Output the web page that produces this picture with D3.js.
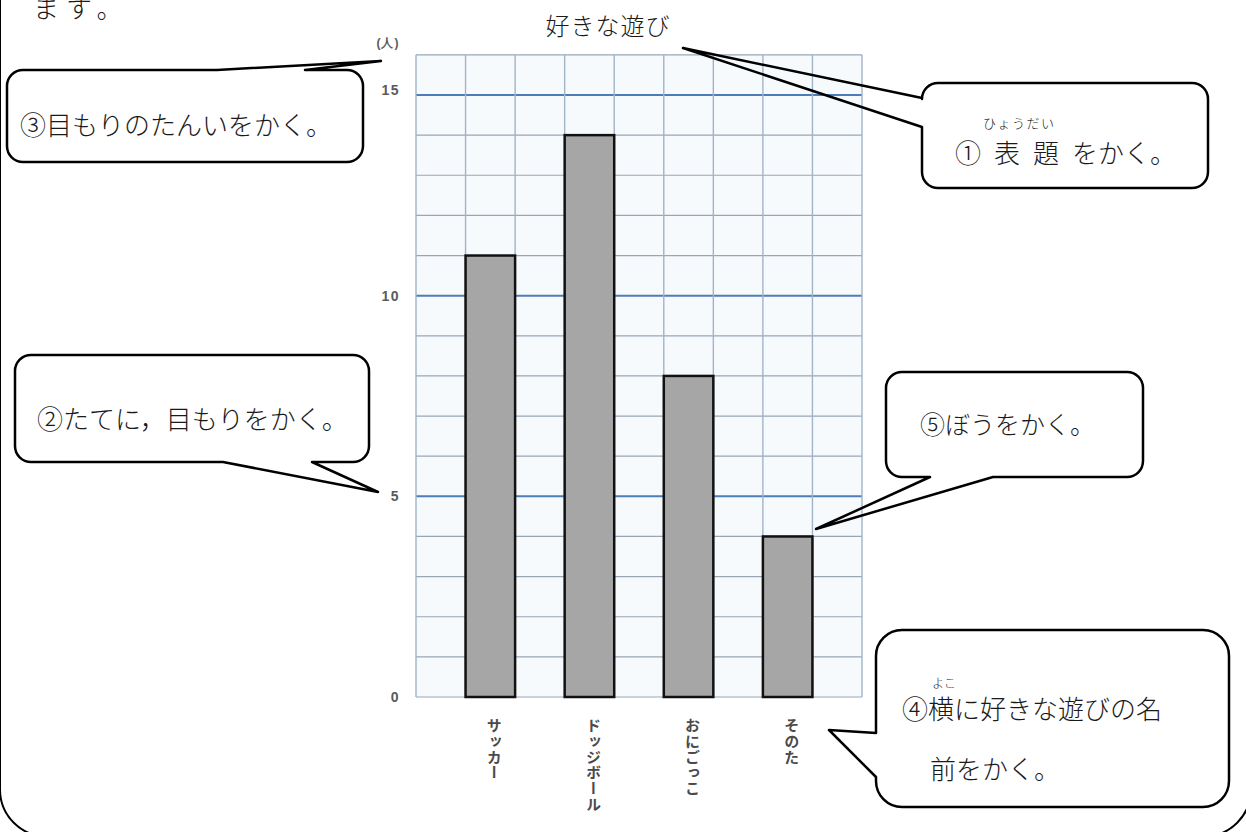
<!DOCTYPE html>
<html>
<head>
<meta charset="utf-8">
<script src="https://cdn.jsdelivr.net/npm/d3@7"></script>
<style>
  body { margin: 0; background: #fff; }
  svg { display: block; }
  .jp { font-family: "Noto Sans CJK JP", sans-serif; font-weight: 300; fill: #1a1a1a; }
  .tick-label { font-family: "Liberation Sans", Arial, sans-serif; font-weight: bold; fill: #5a5a5a; }
</style>
</head>
<body>
<div id="vis"></div>
<script>
// chart data
const categories = ["サッカー", "ドッジボール", "おにごっこ", "そのた"];
const values = [11, 14, 8, 4];
const yTicks = [0, 5, 10, 15];
const yMax = 16;          // grid goes one row above 15
const unitLabel = "(人)";
const chartTitle = "好きな遊び";

const width = 1246;
const height = 832;

// plot area (the grid)
const plot = { left: 416, right: 862, bottom: 697, top15: 95 };

const svg = d3.select("#vis").append("svg")
    .attr("width", width)
    .attr("height", height)
    .attr("viewBox", [0, 0, width, height]);

// big page frame, mostly outside the window
svg.append("rect")
    .attr("x", 0).attr("y", -100)
    .attr("width", 1251).attr("height", 936.5)
    .attr("rx", 47)
    .attr("fill", "none")
    .attr("stroke", "#000")
    .attr("stroke-width", 2);

// leftover text from the page above (cut at the top, as in the scan)
svg.append("text")
    .attr("class", "jp")
    .attr("x", 33).attr("y", 6)
    .attr("dominant-baseline", "central")
    .style("font-size", "26px")
    .style("letter-spacing", "7px")
    .text("ます。");

const x = d3.scaleBand()
    .domain(categories)
    .range([plot.left, plot.right])
    .paddingInner(0.5)
    .paddingOuter(0.5);

const y = d3.scaleLinear()
    .domain([0, 15])
    .range([plot.bottom, plot.top15]);

// grid columns are half a band step wide
const nCols = categories.length * 2 + 1;
const xCol = d3.scaleLinear().domain([0, nCols]).range([plot.left, plot.right]);

const grid = svg.append("g");

grid.append("rect")
    .attr("x", plot.left).attr("y", y(yMax))
    .attr("width", plot.right - plot.left)
    .attr("height", y(0) - y(yMax))
    .attr("fill", "#f7fafd");

// horizontal lines, one per person
grid.selectAll(".hline")
    .data(d3.range(0, yMax + 1))
    .join("line")
    .attr("x1", plot.left).attr("x2", plot.right)
    .attr("y1", d => y(d)).attr("y2", d => y(d))
    .attr("stroke", d => (d % 5 === 0 && d > 0 && d < yMax) ? "#4d7db8" : "#99a6b5")
    .attr("stroke-width", d => (d % 5 === 0 && d > 0 && d < yMax) ? 2 : 1.2);

// vertical lines
grid.selectAll(".vline")
    .data(d3.range(0, nCols + 1))
    .join("line")
    .attr("x1", d => xCol(d)).attr("x2", d => xCol(d))
    .attr("y1", y(yMax)).attr("y2", y(0))
    .attr("stroke", "#a0b4c8")
    .attr("stroke-width", 1.4);

// bars
svg.selectAll(".bar")
    .data(values)
    .join("rect")
    .attr("x", (d, i) => x(categories[i]))
    .attr("y", d => y(d))
    .attr("width", x.bandwidth())
    .attr("height", d => y(0) - y(d))
    .attr("fill", "#a6a6a6")
    .attr("stroke", "#111")
    .attr("stroke-width", 2.5);

// y tick labels
svg.selectAll(".tick-label")
    .data(yTicks)
    .join("text")
    .attr("class", "tick-label")
    .attr("x", 400)
    .attr("y", d => y(d) - (d === 15 ? 5 : 0))
    .attr("dy", "0.35em")
    .attr("text-anchor", "end")
    .style("font-size", "14px")
    .style("letter-spacing", "1.5px")
    .text(d => d);

svg.append("text")
    .attr("class", "tick-label")
    .attr("x", 388).attr("y", 43)
    .attr("dy", "0.35em")
    .attr("text-anchor", "middle")
    .style("font-size", "12px")
    .style("letter-spacing", "1px")
    .text(unitLabel);

// category names, written top to bottom
svg.selectAll(".cat")
    .data(categories)
    .join("text")
    .attr("x", d => x(d) + x.bandwidth() / 2 + 4)
    .attr("y", 718)
    .style("writing-mode", "vertical-rl")
    .style("font-family", "'Noto Sans CJK JP', sans-serif")
    .style("font-weight", "bold")
    .style("font-size", "15px")
    .style("letter-spacing", "0.7px")
    .attr("fill", "#4a4a4a")
    .text(d => d);

// title
svg.append("text")
    .attr("class", "jp")
    .attr("x", 608).attr("y", 24)
    .attr("text-anchor", "middle")
    .attr("dominant-baseline", "central")
    .style("font-size", "24px")
    .style("letter-spacing", "1px")
    .text(chartTitle);

// speech bubbles
const callouts = [
    { box: [7, 70, 363, 162], r: 16, tail: { side: "top", a: 217, b: 305, tip: [381, 61] },
      texts: [{ t: "③目もりのたんいをかく。", x: 20, y: 123, s: 26 }] },
    { box: [922, 83, 1208, 188], r: 16, tail: { side: "left", a: 127, b: 98, tip: [683, 48] },
      texts: [{ t: "ひょうだい", x: 983, y: 122, s: 13, ls: 1.5 },
              { t: "①\u2002表\u2002題\u2002をかく。", x: 955, y: 151, s: 26 }] },
    { box: [15, 355, 369, 462], r: 16, tail: { side: "bottom", a: 312, b: 223, tip: [378, 492] },
      texts: [{ t: "②たてに，目もりをかく。", x: 37, y: 417, s: 26 }] },
    { box: [886, 372, 1143, 477], r: 16, tail: { side: "bottom", a: 993, b: 930, tip: [816, 529] },
      texts: [{ t: "⑤ぼうをかく。", x: 920, y: 423, s: 25 }] },
    { box: [876, 630, 1229, 807], r: 26, tail: { side: "left", a: 777, b: 733, tip: [829, 730] },
      texts: [{ t: "よこ", x: 932, y: 682, s: 12 },
              { t: "④横に好きな遊びの名", x: 902, y: 707, s: 26 },
              { t: "前をかく。", x: 930, y: 767, s: 26 }] }
];

function bubblePath(c) {
    const [x0, y0, x1, y1] = c.box, r = c.r, t = c.tail;
    const p = d3.path();
    const tailOn = side => {
        if (t.side !== side) return;
        const onTop = side === "top" || side === "bottom";
        const fixed = side === "top" ? y0 : side === "bottom" ? y1 : side === "left" ? x0 : x1;
        if (onTop) { p.lineTo(t.a, fixed); p.lineTo(t.tip[0], t.tip[1]); p.lineTo(t.b, fixed); }
        else { p.lineTo(fixed, t.a); p.lineTo(t.tip[0], t.tip[1]); p.lineTo(fixed, t.b); }
    };
    p.moveTo(x0 + r, y0);
    tailOn("top");
    p.lineTo(x1 - r, y0);
    p.arcTo(x1, y0, x1, y0 + r, r);
    tailOn("right");
    p.lineTo(x1, y1 - r);
    p.arcTo(x1, y1, x1 - r, y1, r);
    tailOn("bottom");
    p.lineTo(x0 + r, y1);
    p.arcTo(x0, y1, x0, y1 - r, r);
    tailOn("left");
    p.lineTo(x0, y0 + r);
    p.arcTo(x0, y0, x0 + r, y0, r);
    p.closePath();
    return p.toString();
}

const bubbles = svg.selectAll(".bubble")
    .data(callouts)
    .join("g");

bubbles.append("rect")
    .attr("x", d => d.box[0]).attr("y", d => d.box[1])
    .attr("width", d => d.box[2] - d.box[0])
    .attr("height", d => d.box[3] - d.box[1])
    .attr("rx", d => d.r)
    .attr("fill", "#fff");

bubbles.append("path")
    .attr("d", bubblePath)
    .attr("fill", "none")
    .attr("stroke", "#000")
    .attr("stroke-width", 2.5)
    .attr("stroke-linejoin", "round");

bubbles.selectAll("text")
    .data(d => d.texts)
    .join("text")
    .attr("class", "jp")
    .attr("x", d => d.x).attr("y", d => d.y)
    .attr("dominant-baseline", "central")
    .style("font-size", d => d.s + "px")
    .style("letter-spacing", d => (d.ls || 0) + "px")
    .text(d => d.t);
</script>
</body>
</html>
